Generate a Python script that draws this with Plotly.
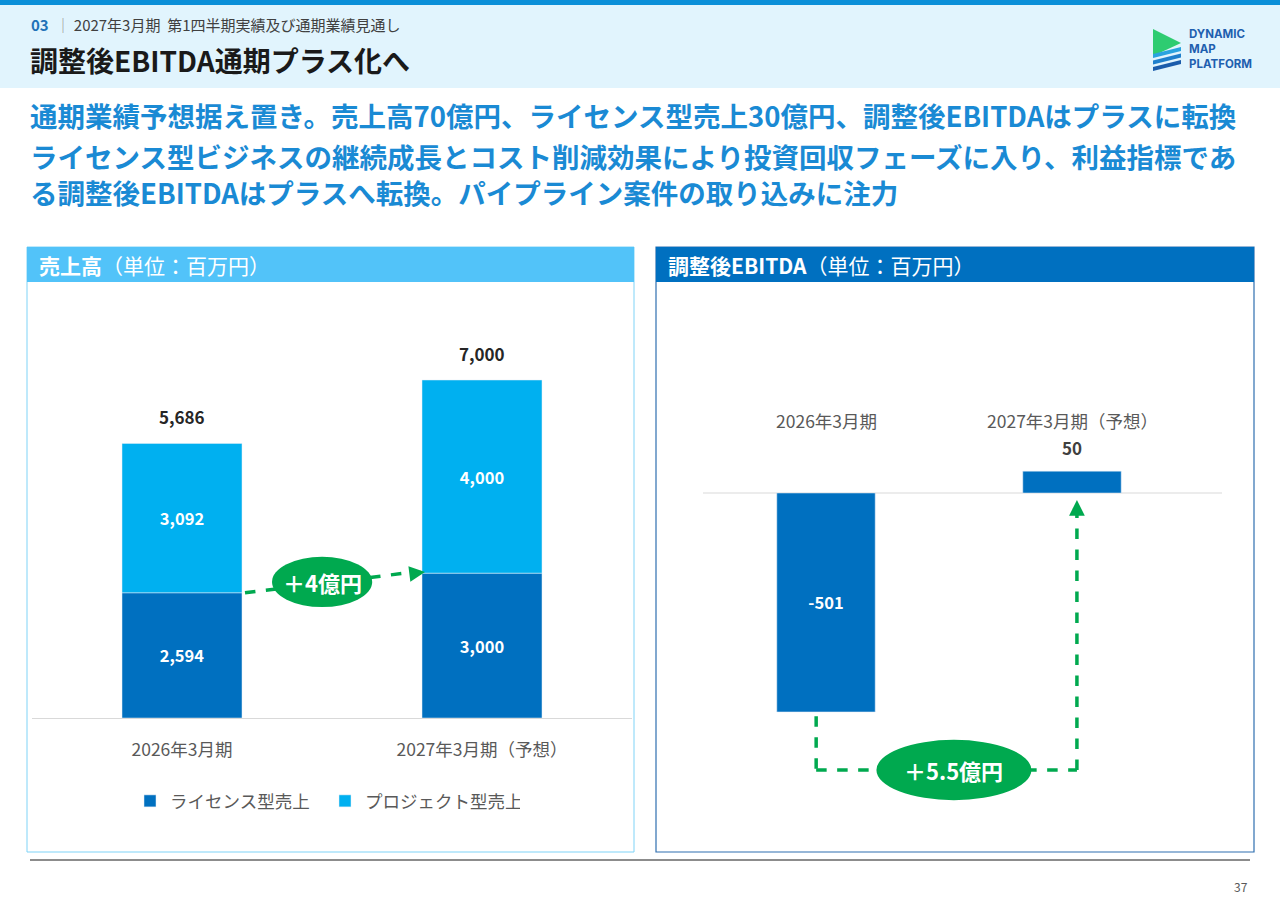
import plotly.graph_objects as go

# ---------------- data ----------------
categories = ["2026年3月期", "2027年3月期（予想）"]
license_sales = [2594, 3000]
project_sales = [3092, 4000]
ebitda = [-501, 50]
series_names = ["ライセンス型売上", "プロジェクト型売上"]
sales_delta_label = "＋4億円"
ebitda_delta_label = "＋5.5億円"

W, H = 1280, 904
FONT = "Noto Sans CJK JP"
DARK = "#0070C0"
LIGHT = "#00B0F0"
GREEN = "#00A94F"


def px(x):
    return x / W


def py(y):
    return 1 - y / H


totals = [a + b for a, b in zip(license_sales, project_sales)]

fig = go.Figure()

fig.add_trace(go.Bar(
    x=categories, y=license_sales, name=series_names[0], marker_color=DARK,
    text=[f"{v:,}" for v in license_sales], textposition="inside",
    insidetextanchor="middle", textfont=dict(color="white", size=16.5, family=FONT),
    texttemplate="<b>%{text}</b>", constraintext="none",
    xaxis="x", yaxis="y", hoverinfo="skip"))
fig.add_trace(go.Bar(
    x=categories, y=project_sales, name=series_names[1], marker_color=LIGHT,
    text=[f"{v:,}" for v in project_sales], textposition="inside",
    insidetextanchor="middle", textfont=dict(color="white", size=16.5, family=FONT),
    texttemplate="<b>%{text}</b>", constraintext="none",
    xaxis="x", yaxis="y", hoverinfo="skip"))
fig.add_trace(go.Bar(
    x=categories, y=ebitda, marker_color=DARK, showlegend=False,
    text=[f"{v:,}" if v < 0 else "" for v in ebitda], textposition="inside",
    insidetextanchor="middle", textfont=dict(color="white", size=16.5, family=FONT),
    texttemplate="<b>%{text}</b>", constraintext="none",
    xaxis="x2", yaxis="y2", hoverinfo="skip"))

# left axis scale: 7000 -> 338px
l_scale = 338 / 7000
l_top = (718 - 290) / l_scale
# right axis scale
r_scale = 0.437
r_top = (493 - 290) / r_scale
r_bot = -(840 - 493) / r_scale

shapes = []
annotations = []

# --- page decorations ---
shapes.append(dict(type="rect", xref="paper", yref="paper", x0=0, x1=1, y0=py(88), y1=py(5),
                   fillcolor="#E1F4FD", line_width=0, layer="below"))
shapes.append(dict(type="rect", xref="paper", yref="paper", x0=0, x1=1, y0=py(5), y1=1,
                   fillcolor="#0A8FD8", line_width=0, layer="below"))
# footer line
shapes.append(dict(type="line", xref="paper", yref="paper", x0=px(30), x1=px(1250), y0=py(860), y1=py(860),
                   line=dict(color="#8C8C8C", width=2)))
# logo
shapes.append(dict(type="path", xref="paper", yref="paper",
                   path=f"M {px(1153)},{py(29)} L {px(1181)},{py(43)} L {px(1153)},{py(56)} Z",
                   fillcolor="#2ECC71", line_width=0))
for i, c in enumerate(["#29A3DF", "#1E7FCC", "#1B5CAB"]):
    y0 = 50 + 6.5 * i
    shapes.append(dict(type="path", xref="paper", yref="paper",
                       path=(f"M {px(1153)},{py(y0 + 4)} L {px(1181)},{py(y0 - 3)} L {px(1181)},{py(y0 + 1)} "
                             f"L {px(1153)},{py(y0 + 8)} Z"),
                       fillcolor=c, line_width=0))
annotations.append(dict(xref="paper", yref="paper", x=px(1187), y=py(49), xanchor="left", yanchor="middle",
                        text="<b>DYNAMIC<br>MAP<br>PLATFORM</b>", align="left", showarrow=False,
                        font=dict(family="Inter", size=11.5, color="#1F5FAF")))

# --- panels ---
shapes.append(dict(type="rect", xref="paper", yref="paper", x0=px(27), x1=px(634), y0=py(852), y1=py(247),
                   line=dict(color="#7FD3F7", width=1), fillcolor="white", layer="below"))
shapes.append(dict(type="rect", xref="paper", yref="paper", x0=px(27), x1=px(634), y0=py(282), y1=py(247),
                   line_width=0, fillcolor="#52C3F9", layer="below"))
shapes.append(dict(type="rect", xref="paper", yref="paper", x0=px(656), x1=px(1254), y0=py(852), y1=py(247),
                   line=dict(color="#2F6FB0", width=1.2), fillcolor="white", layer="below"))
shapes.append(dict(type="rect", xref="paper", yref="paper", x0=px(656), x1=px(1254), y0=py(282), y1=py(247),
                   line_width=0, fillcolor="#0070C0", layer="below"))
annotations.append(dict(xref="paper", yref="paper", x=px(37), y=py(265), xanchor="left", yanchor="middle",
                        text="<b>売上高</b>（単位：百万円）", showarrow=False,
                        font=dict(family=FONT, size=21, color="white")))
annotations.append(dict(xref="paper", yref="paper", x=px(666), y=py(265), xanchor="left", yanchor="middle",
                        text="<b>調整後EBITDA</b>（単位：百万円）", showarrow=False,
                        font=dict(family=FONT, size=21, color="white")))

# --- header texts ---
annotations.append(dict(xref="paper", yref="paper", x=px(29), y=py(25), xanchor="left", yanchor="middle",
                        text="<b><span style='color:#1F72B8'>03</span></b>  <span style='color:#999'>｜</span> 2027年3月期  第1四半期実績及び通期業績見通し",
                        showarrow=False, font=dict(family=FONT, size=15, color="#404040")))
annotations.append(dict(xref="paper", yref="paper", x=px(28), y=py(60), xanchor="left", yanchor="middle",
                        text="<b>調整後EBITDA通期プラス化へ</b>", showarrow=False,
                        font=dict(family=FONT, size=28, color="#1A1A1A")))
headline = "通期業績予想据え置き。売上高70億円、ライセンス型売上30億円、調整後EBITDAはプラスに転換"
body_lines = [
    "ライセンス型ビジネスの継続成長とコスト削減効果により投資回収フェーズに入り、利益指標であ",
    "る調整後EBITDAはプラスへ転換。パイプライン案件の取り込みに注力",
]
annotations.append(dict(xref="paper", yref="paper", x=px(28), y=py(115), xanchor="left", yanchor="middle",
                        text=f"<b>{headline}</b>", showarrow=False,
                        font=dict(family=FONT, size=27.5, color="#1A8AD4")))
annotations.append(dict(xref="paper", yref="paper", x=px(28), y=py(174), xanchor="left", yanchor="middle",
                        text="<b>" + "<br>".join(body_lines) + "</b>", showarrow=False, align="left",
                        font=dict(family=FONT, size=27.5, color="#1A8AD4")))
annotations.append(dict(xref="paper", yref="paper", x=px(1250), y=py(886), xanchor="right", yanchor="middle",
                        text="37", showarrow=False, font=dict(family=FONT, size=12, color="#595959")))

# --- left chart labels ---
for c, t in zip(categories, totals):
    annotations.append(dict(xref="x", yref="y", x=c, y=t, yanchor="bottom", yshift=12,
                            text=f"<b>{t:,}</b>", showarrow=False,
                            font=dict(family=FONT, size=17, color="#262626")))

# left connector (data coords: category index)
s_x0, s_y0 = 0.21, license_sales[0]
s_x1, s_y1 = 0.81, license_sales[1] + 23
shapes.append(dict(type="line", xref="x", yref="y", x0=s_x0, y0=s_y0, x1=s_x1 - 0.04, y1=s_y1 - 3,
                   line=dict(color=GREEN, width=3.5, dash="dash")))
ecx = 0.467
ecy = s_y0 + (ecx - s_x0) / (s_x1 - s_x0) * (s_y1 - s_y0) + 40
shapes.append(dict(type="circle", xref="x", yref="y", x0=ecx - 0.167, x1=ecx + 0.167,
                   y0=ecy - 520, y1=ecy + 520, fillcolor=GREEN, line_width=0))
annotations.append(dict(xref="x", yref="y", x=ecx, y=ecy, text=f"<b>{sales_delta_label}</b>", showarrow=False,
                        font=dict(family=FONT, size=22, color="white")))
annotations.append(dict(xref="x", yref="y", x=s_x1, y=s_y1, ax=-16, ay=2, text="", showarrow=True,
                        arrowhead=2, arrowsize=0.9, arrowwidth=3.5, arrowcolor=GREEN))

# --- right chart labels ---
for c in categories:
    annotations.append(dict(xref="x2", yref="y2", x=c, y=(493 - 420) / r_scale, text=c, showarrow=False,
                            font=dict(family=FONT, size=17.5, color="#595959")))
annotations.append(dict(xref="x2", yref="y2", x=categories[1], y=ebitda[1], yanchor="bottom", yshift=9,
                        text=f"<b>{ebitda[1]:,}</b>", showarrow=False,
                        font=dict(family=FONT, size=17, color="#404040")))
shapes.append(dict(type="line", xref="paper", yref="y2", x0=px(703), x1=px(1222), y0=0, y1=0,
                   line=dict(color="#D9D9D9", width=1.2), layer="below"))
e_low = -(770 - 493) / r_scale
xl, xr = -0.04, 1.02
shapes.append(dict(type="line", xref="x2", yref="y2", x0=xl, x1=xl, y0=ebitda[0] - 10, y1=e_low,
                   line=dict(color=GREEN, width=3.5, dash="dash")))
shapes.append(dict(type="line", xref="x2", yref="y2", x0=xl, x1=xr, y0=e_low, y1=e_low,
                   line=dict(color=GREEN, width=3.5, dash="dash")))
shapes.append(dict(type="line", xref="x2", yref="y2", x0=xr, x1=xr, y0=e_low, y1=-45,
                   line=dict(color=GREEN, width=3.5, dash="dash")))
e_cx = 0.52
shapes.append(dict(type="circle", xref="x2", yref="y2", x0=e_cx - 0.315, x1=e_cx + 0.315,
                   y0=e_low - 69, y1=e_low + 69, fillcolor=GREEN, line_width=0))
annotations.append(dict(xref="x2", yref="y2", x=e_cx, y=e_low, text=f"<b>{ebitda_delta_label}</b>",
                        showarrow=False, font=dict(family=FONT, size=22, color="white")))
annotations.append(dict(xref="x2", yref="y2", x=xr, y=-16, ax=0, ay=16, text="", showarrow=True,
                        arrowhead=2, arrowsize=0.9, arrowwidth=3.5, arrowcolor=GREEN))

fig.update_layout(
    width=W, height=H, margin=dict(l=0, r=0, t=0, b=0),
    paper_bgcolor="white", plot_bgcolor="rgba(0,0,0,0)",
    barmode="relative", bargap=0.6,
    font=dict(family=FONT),
    showlegend=True,
    legend=dict(orientation="h", x=px(325), xanchor="center", y=py(801), yanchor="middle",
                font=dict(family=FONT, size=17.5, color="#595959"), traceorder="normal",
                itemwidth=30, entrywidth=150, bgcolor="rgba(0,0,0,0)"),
    xaxis=dict(domain=[px(32), px(632)], anchor="y", type="category", range=[-0.5, 1.5],
               showline=True, linecolor="#D9D9D9", linewidth=1.2, ticks="", showgrid=False,
               tickfont=dict(family=FONT, size=17.5, color="#595959"), ticklabelstandoff=16),
    yaxis=dict(domain=[py(718), py(290)], anchor="x", range=[0, l_top], visible=False),
    xaxis2=dict(domain=[px(703), px(1195)], anchor="y2", type="category", range=[-0.5, 1.5],
                visible=False),
    yaxis2=dict(domain=[py(840), py(290)], anchor="x2", range=[r_bot, r_top], visible=False),
    shapes=shapes, annotations=annotations,
)

fig.write_html("out.html", config={"displayModeBar": False},
               post_script="document.body.style.margin='0';document.body.style.padding='0';")
